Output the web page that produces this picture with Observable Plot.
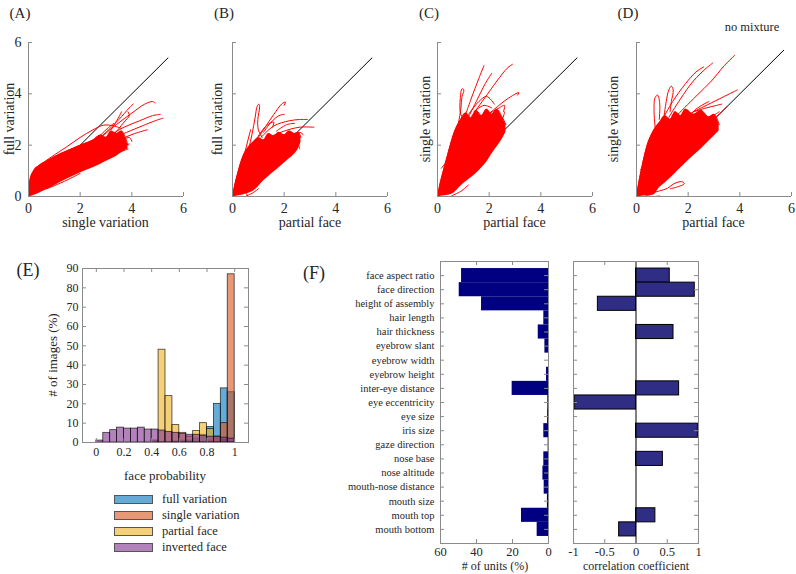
<!DOCTYPE html>
<html><head><meta charset="utf-8">
<script src="https://cdn.jsdelivr.net/npm/d3@7"></script>
<script src="https://cdn.jsdelivr.net/npm/@observablehq/plot@0.6"></script>
<style>
html,body{margin:0;padding:0;background:#fff;}
#root{position:relative;width:796px;height:574px;overflow:hidden;font-family:"Liberation Serif","DejaVu Serif",serif;color:#262626;}
.lbl{position:absolute;white-space:nowrap;line-height:1;transform:translate(-50%,-50%);}
.rot{transform:translate(-50%,-50%) rotate(-90deg);}
.lft{position:absolute;white-space:nowrap;line-height:1;transform:translate(0,-50%);}
.sw{position:absolute;box-sizing:border-box;border:1px solid #555;}
</style></head><body><div id="root"></div><script>
// ---------------- DATA ----------------
// Panels A-D: dense core of trajectories [x, yLow, yHigh] and individual trajectories [[x,y],...]
const bandA = [[0,0,0],[0.05,0,0.6],[0.2,0.04,1.0],[0.4,0.12,1.2],[0.7,0.26,1.38],[1.0,0.42,1.55],[1.5,0.68,1.78],[2.0,0.92,2.0],[2.5,1.12,2.2],[2.8,1.26,2.4],[3.0,1.36,2.3],[3.2,1.46,2.55],[3.4,1.56,2.45],[3.6,1.7,2.55],[3.75,1.8,2.3],[3.85,1.85,2.0]];
const curvesA = [
 [[0.1,0.75],[0.5,1.25],[0.9,1.55],[1.5,1.95],[2.0,2.3],[2.5,2.6],[2.9,2.78],[3.3,2.75],[3.6,2.65]],
 [[2.4,2.0],[3.0,2.5],[3.5,3.0],[3.9,3.45],[4.05,3.6]],
 [[2.8,2.3],[3.4,2.8],[4.0,3.25],[4.5,3.6],[4.8,3.7],[4.9,3.65]],
 [[3.0,2.3],[3.7,2.7],[4.3,2.95],[4.8,3.15],[5.1,3.2]],
 [[3.1,2.2],[3.8,2.5],[4.4,2.75],[4.9,2.95],[5.2,3.05]],
 [[3.0,2.0],[3.6,2.25],[4.1,2.45],[4.6,2.6]],
 [[2.9,1.75],[3.4,1.9],[3.9,2.05]],
 [[2.7,1.45],[3.3,1.65],[3.85,1.85]],
 [[3.2,2.6],[3.5,3.1],[3.6,3.3]],
 [[2.6,2.2],[3.0,2.6],[3.3,2.85]],
 [[3.3,2.4],[3.7,2.9],[3.9,3.15],[3.85,3.3]],
 [[0.7,0.3],[1.3,0.55],[2.0,0.9]],
 [[3.5,2.1],[3.9,2.3],[4.0,2.15]],
 [[2.2,1.3],[2.8,1.6],[3.4,1.85],[3.8,1.95]]
];
const bandB = [[0,0,0],[0.1,0,0.5],[0.2,0.02,0.9],[0.4,0.06,1.55],[0.6,0.12,1.9],[0.8,0.2,2.12],[1.0,0.38,2.28],[1.2,0.6,2.2],[1.4,0.78,2.45],[1.6,0.95,2.35],[1.8,1.12,2.5],[2.0,1.3,2.4],[2.2,1.47,2.55],[2.4,1.65,2.45],[2.55,1.85,2.5],[2.65,2.1,2.3]];
const curvesB = [
 [[0.55,1.5],[0.75,2.4],[0.88,3.1],[0.95,3.5],[1.02,3.6],[1.05,3.5],[0.98,3.0],[1.0,2.6],[1.15,2.3]],
 [[0.8,2.0],[1.2,2.6],[1.6,3.2],[1.9,3.6],[2.05,3.68],[2.0,3.55]],
 [[1.1,2.3],[1.6,2.75],[2.2,2.95],[2.6,3.0],[2.9,3.0]],
 [[1.4,2.3],[2.0,2.55],[2.6,2.7],[3.15,2.7]],
 [[1.2,2.5],[1.5,2.9],[1.8,3.15],[2.0,3.2]],
 [[0.9,2.2],[1.3,2.75],[1.6,2.9],[1.55,2.7]],
 [[0.3,1.0],[0.5,1.8],[0.65,2.4],[0.7,2.6]],
 [[1.8,1.6],[2.2,1.95],[2.5,2.1],[2.6,1.85]],
 [[2.0,1.75],[2.4,2.2],[2.6,2.5],[2.75,2.4]],
 [[0.5,0.0],[0.8,0.15],[1.0,0.3]],
 [[0.3,0.25],[0.5,0.15],[0.6,0.0]],
 [[1.7,2.55],[2.1,2.8],[2.4,2.85]]
];
const bandC = [[0,0,0],[0.1,0,0.5],[0.2,0.02,0.9],[0.4,0.05,1.65],[0.65,0.15,2.5],[0.9,0.4,3.0],[1.1,0.57,3.25],[1.3,0.73,3.05],[1.5,0.9,3.35],[1.7,1.1,3.15],[1.9,1.33,3.4],[2.1,1.65,3.2],[2.3,1.93,3.4],[2.5,2.22,3.1],[2.65,2.5,2.8]];
const curvesC = [
 [[0.95,2.8],[1.3,3.8],[1.6,4.6],[1.8,5.1]],
 [[1.3,3.1],[1.8,3.8],[2.3,4.5],[2.7,5.0],[2.9,5.15]],
 [[1.1,2.9],[1.5,3.7],[1.85,4.4],[2.1,4.8]],
 [[0.75,2.5],[0.9,3.4],[0.95,3.9],[1.02,4.15],[0.95,4.2],[0.88,3.8],[0.9,3.2],[1.05,3.0]],
 [[1.6,2.9],[2.2,3.4],[2.7,3.8],[3.15,4.05],[3.1,3.95]],
 [[1.8,3.1],[2.3,3.4],[2.6,3.55],[2.55,3.3]],
 [[1.2,3.2],[1.6,3.7],[1.9,3.9],[2.2,3.6]],
 [[1.4,3.3],[1.8,3.55],[2.1,3.45]],
 [[0.15,1.1],[0.35,1.35],[0.5,1.55],[0.55,1.7]],
 [[0.55,0.03],[0.9,0.2],[1.2,0.45]],
 [[1.9,1.9],[2.2,2.1],[2.4,2.3]],
 [[2.2,2.7],[2.5,3.0],[2.6,3.3]]
];
const bandD = [[0,0,0],[0.1,0,0.6],[0.2,0.01,1.1],[0.4,0.03,1.95],[0.65,0.05,2.55],[0.9,0.35,2.9],[1.1,0.52,3.15],[1.3,0.7,3.0],[1.5,0.9,3.3],[1.7,1.1,3.15],[1.9,1.3,3.4],[2.2,1.58,3.2],[2.5,1.85,3.35],[2.8,2.15,3.1],[3.0,2.35,3.2],[3.2,2.55,2.8]];
const curvesD = [
 [[1.2,3.0],[1.7,3.8],[2.2,4.5],[2.7,5.0],[2.95,5.2]],
 [[1.6,3.2],[2.3,3.9],[2.9,4.5],[3.4,5.1],[3.8,5.5]],
 [[1.0,3.0],[1.4,3.7],[1.9,4.4],[2.3,4.85],[2.6,5.05]],
 [[0.75,2.4],[0.68,3.3],[0.72,3.85],[0.82,3.95],[0.9,3.6],[0.88,3.0]],
 [[1.05,3.0],[1.15,3.7],[1.25,4.15],[1.35,4.3],[1.42,4.15],[1.35,3.7],[1.3,3.3]],
 [[2.0,3.2],[2.6,3.5],[3.2,3.8],[3.6,4.0],[3.9,4.15]],
 [[2.2,3.3],[2.7,3.45],[3.1,3.55],[3.3,3.6]],
 [[0.15,1.05],[0.35,1.3],[0.55,1.7],[0.75,2.1]],
 [[0.55,0.12],[0.9,0.22],[1.2,0.32],[1.45,0.5],[1.75,0.58],[1.85,0.5],[1.6,0.38],[1.3,0.3]],
 [[0.35,0.05],[0.6,0.0],[0.9,0.02]],
 [[2.5,2.6],[2.9,2.95],[3.3,3.3],[3.5,3.5]],
 [[2.4,2.8],[2.9,3.1],[3.2,3.3]],
 [[1.3,2.2],[1.8,2.8],[2.3,3.4],[2.8,3.7]]
];
const diagonalEnds = [5.4, 5.4, 5.4, 5.7];
const scatterTicks = [0, 2, 4, 6];

// Panel E: histogram of face probability (% of images), bin width 0.05
const binStart = [0,0.05,0.1,0.15,0.2,0.25,0.3,0.35,0.4,0.45,0.5,0.55,0.6,0.65,0.7,0.75,0.8,0.85,0.9,0.95];
const binWidth = 0.05;
const fullVariation   = [0,0,0,0,0,0,0,0,0,0,0,0.5,1,1,2,4,8,20,28,26];
const singleVariation = [0,0,0,0,0,0,0,0,0,0,0,0,0,0,0,0,1,2,10,87];
const partialFace     = [0,0,0,0,0,0,0,0,1,48,24,9,5,3,6,10,7,3,1,0];
const invertedFace    = [1,5,6.4,7.7,7.2,7.2,7.7,6.7,6.7,6.2,5.5,5,4.5,4,4,3.5,3,3,2.5,2];
const histNames  = ["full variation","single variation","partial face","inverted face"];
const histColors = ["#0072BD","#D95319","#EDB120","#7E2F8E"];
const histSwatch = ["#66AAD7","#E89875","#F4D079","#B282BB"];
const eXTicks = [0,0.2,0.4,0.6,0.8,1];
const eYTicks = [0,10,20,30,40,50,60,70,80,90];

// Panel F
const features = ["face aspect ratio","face direction","height of assembly","hair length","hair thickness","eyebrow slant","eyebrow width","eyebrow height","inter-eye distance","eye eccentricity","eye size","iris size","gaze direction","nose base","nose altitude","mouth-nose distance","mouth size","mouth top","mouth bottom"];
const unitsPct = [48.3,49.6,37.2,2.6,5.7,2.0,0,1.1,20.2,0.4,0.5,2.6,0.2,2.6,3.1,2.4,0.6,15,6.3];
const corrCoef = [0.54,0.94,-0.61,0,0.60,0,0,0,0.69,-0.98,0,0.99,0,0.43,0,0,0,0.31,-0.27];
const unitTicks = [0,20,40,60];
const corrTicks = [-1,-0.5,0,0.5,1];

// ---------------- DRAWING ----------------
const serif = '"Liberation Serif","DejaVu Serif",serif';
const gray = "#8a8a8a";
const ink = "#262626";
const root = document.getElementById("root");
function place(el, left, top){ el.style.position="absolute"; el.style.left=left+"px"; el.style.top=top+"px"; root.appendChild(el); }
function label(text, cx, cy, size, rot){ const d=document.createElement("div"); d.className="lbl"+(rot?" rot":""); d.textContent=text; d.style.left=cx+"px"; d.style.top=cy+"px"; d.style.fontSize=size+"px"; root.appendChild(d); }
function style(fs){ return {background:"transparent", fontFamily:serif, fontSize:fs+"px", color:ink, overflow:"visible"}; }

// Scatter panels A-D
const FW = 155, FH = 154, FTOP = 42;
function scatter(frameLeft, band, curves, diagEnd, showY){
  const ml = showY ? 28 : 8, mt = 6, mr = 5, mb = 24;
  const pts = curves.flatMap((c,i)=>c.map(p=>({x:p[0], y:p[1], id:i})));
  const marks = [
    Plot.line([[0,0],[diagEnd,diagEnd]], {stroke:"#000", strokeWidth:1}),
    Plot.areaY(band, {x:d=>d[0], y1:d=>d[1], y2:d=>d[2], fill:"#ff0000", curve:"monotone-x"}),
    Plot.line(band, {x:d=>d[0], y:d=>d[2], stroke:"#ff0000", strokeWidth:1, curve:"monotone-x"}),
    Plot.line(pts, {x:"x", y:"y", z:"id", stroke:"#ff0000", strokeWidth:1, curve:"catmull-rom"}),
    Plot.ruleX([0], {stroke:gray}),
    Plot.ruleY([0], {stroke:gray}),
    Plot.tickX(scatterTicks, {x:d=>d, insetTop:FH-4, stroke:gray}),
    Plot.tickY(scatterTicks, {y:d=>d, insetRight:FW-4, stroke:gray}),
    Plot.axisX(scatterTicks, {tickSize:0, tickPadding:7, label:null, tickFormat:d=>String(d)})
  ];
  if (showY) marks.push(Plot.axisY(scatterTicks, {tickSize:0, tickPadding:7, label:null, tickFormat:d=>String(d)}));
  const svg = Plot.plot({
    width: ml+FW+mr, height: mt+FH+mb, marginLeft: ml, marginRight: mr, marginTop: mt, marginBottom: mb,
    x:{domain:[0,6], axis:null}, y:{domain:[0,6], axis:null},
    style: style(14), marks
  });
  place(svg, frameLeft-ml, FTOP-mt);
}
scatter(28, bandA, curvesA, diagonalEnds[0], true);
scatter(232, bandB, curvesB, diagonalEnds[1], false);
scatter(437, bandC, curvesC, diagonalEnds[2], false);
scatter(636, bandD, curvesD, diagonalEnds[3], false);

label("(A)", 20, 13, 15); label("(B)", 224, 13, 15); label("(C)", 429, 13, 15); label("(D)", 628, 13, 15);
label("no mixture", 752, 27, 12.5);
label("single variation", 105.5, 223, 14); label("full variation", 10, 119, 14, true);
label("partial face", 310, 223, 14);      label("full variation", 218, 119, 14, true);
label("partial face", 514.5, 223, 14);    label("single variation", 426, 119, 14, true);
label("partial face", 713.5, 223, 14);    label("single variation", 614, 119, 14, true);

// Panel E histogram
{
  const EL = 82, ET = 268, EW = 166, EH = 174;
  const ml = 40, mt = 10, mr = 10, mb = 26;
  const series = [fullVariation, singleVariation, partialFace, invertedFace];
  const histMarks = series.map((vals, s) => Plot.rectY(
    vals.map((v,i)=>({x1:binStart[i], x2:binStart[i]+binWidth, v})).filter(d=>d.v>0),
    {x1:"x1", x2:"x2", y1:0, y2:"v", fill:histColors[s], fillOpacity:0.6, stroke:"#000", strokeOpacity:0.75, strokeWidth:0.8}));
  const svg = Plot.plot({
    width: ml+EW+mr, height: mt+EH+mb, marginLeft: ml, marginRight: mr, marginTop: mt, marginBottom: mb,
    x:{domain:[-0.1,1.1], axis:null}, y:{domain:[0,90], axis:null},
    style: style(12),
    marks: [
      ...histMarks,
      Plot.frame({stroke:gray}),
      Plot.tickX(eXTicks, {x:d=>d, insetTop:EH-4, stroke:gray}),
      Plot.tickX(eXTicks, {x:d=>d, insetBottom:EH-4, stroke:gray}),
      Plot.tickY(eYTicks, {y:d=>d, insetRight:EW-4, stroke:gray}),
      Plot.tickY(eYTicks, {y:d=>d, insetLeft:EW-4, stroke:gray}),
      Plot.axisX(eXTicks, {tickSize:0, tickPadding:5, label:null, tickFormat:d=>String(d)}),
      Plot.axisY(eYTicks, {tickSize:0, tickPadding:4, label:null, tickFormat:d=>String(d)})
    ]
  });
  place(svg, EL-ml, ET-mt);
  label("(E)", 28, 270, 18);
  label("# of images (%)", 52, 355, 13, true);
  label("face probability", 165, 475, 13);
  const rowsY = [499, 515, 531, 547];
  histNames.forEach((n,i)=>{
    const sw = document.createElement("div"); sw.className="sw";
    sw.style.left="114px"; sw.style.top=(rowsY[i]-4.5)+"px"; sw.style.width="39px"; sw.style.height="9px"; sw.style.background=histSwatch[i];
    root.appendChild(sw);
    const t = document.createElement("div"); t.className="lft"; t.textContent=n; t.style.left="162px"; t.style.top=rowsY[i]+"px"; t.style.fontSize="12.5px";
    root.appendChild(t);
  });
}

// Panel F
{
  const FT = 261, FHh = 282;
  const fRows = features.map((f,i)=>({f, i:i+1, u:unitsPct[i], c:corrCoef[i]}));
  const idx = fRows.map(d=>d.i);
  // left: # of units
  {
    const L = 440, W = 108, ml = 140, mt = 10, mr = 5, mb = 30;
    const svg = Plot.plot({
      width: ml+W+mr, height: mt+FHh+mb, marginLeft: ml, marginRight: mr, marginTop: mt, marginBottom: mb,
      x:{domain:[0,60], reverse:true, axis:null}, y:{domain:[0,20], reverse:true, axis:null},
      style: style(12.5),
      marks: [
        Plot.rectX(fRows.filter(d=>d.u>0), {x1:0, x2:"u", y1:d=>d.i-0.5, y2:d=>d.i+0.5, fill:"#000080"}),
        Plot.frame({stroke:gray}),
        Plot.tickY(idx, {y:d=>d, insetRight:W-4, stroke:gray}),
        Plot.tickY(idx, {y:d=>d, insetLeft:W-4, stroke:gray}),
        Plot.tickX(unitTicks, {x:d=>d, insetBottom:FHh-4, stroke:gray}),
        Plot.tickX(unitTicks, {x:d=>d, insetTop:FHh-4, stroke:gray}),
        Plot.axisY(idx, {tickSize:0, tickPadding:6, label:null, fontSize:10.5, tickFormat:i=>features[i-1]}),
        Plot.axisX(unitTicks, {tickSize:0, tickPadding:4, label:null, tickFormat:d=>String(d)})
      ]
    });
    place(svg, L-ml, FT-mt);
  }
  // right: correlation coefficient
  {
    const L = 573, W = 125, ml = 10, mt = 10, mr = 10, mb = 30;
    const svg = Plot.plot({
      width: ml+W+mr, height: mt+FHh+mb, marginLeft: ml, marginRight: mr, marginTop: mt, marginBottom: mb,
      x:{domain:[-1,1], axis:null}, y:{domain:[0,20], reverse:true, axis:null},
      style: style(12.5),
      marks: [
        Plot.rectX(fRows.filter(d=>d.c!==0), {x1:0, x2:"c", y1:d=>d.i-0.5, y2:d=>d.i+0.5, fill:"#302D84", stroke:"#000", strokeWidth:1}),
        Plot.ruleX([0], {stroke:"#000"}),
        Plot.frame({stroke:gray}),
        Plot.tickY(idx, {y:d=>d, insetRight:W-4, stroke:gray}),
        Plot.tickY(idx, {y:d=>d, insetLeft:W-4, stroke:gray}),
        Plot.tickX(corrTicks, {x:d=>d, insetBottom:FHh-4, stroke:gray}),
        Plot.tickX(corrTicks, {x:d=>d, insetTop:FHh-4, stroke:gray}),
        Plot.axisX(corrTicks, {tickSize:0, tickPadding:4, label:null, tickFormat:d=>String(d)})
      ]
    });
    place(svg, L-ml, FT-mt);
  }
  label("(F)", 314, 273, 18);
  label("# of units (%)", 495, 566, 12);
  label("correlation coefficient", 636, 566, 12);
}
</script></body></html>
